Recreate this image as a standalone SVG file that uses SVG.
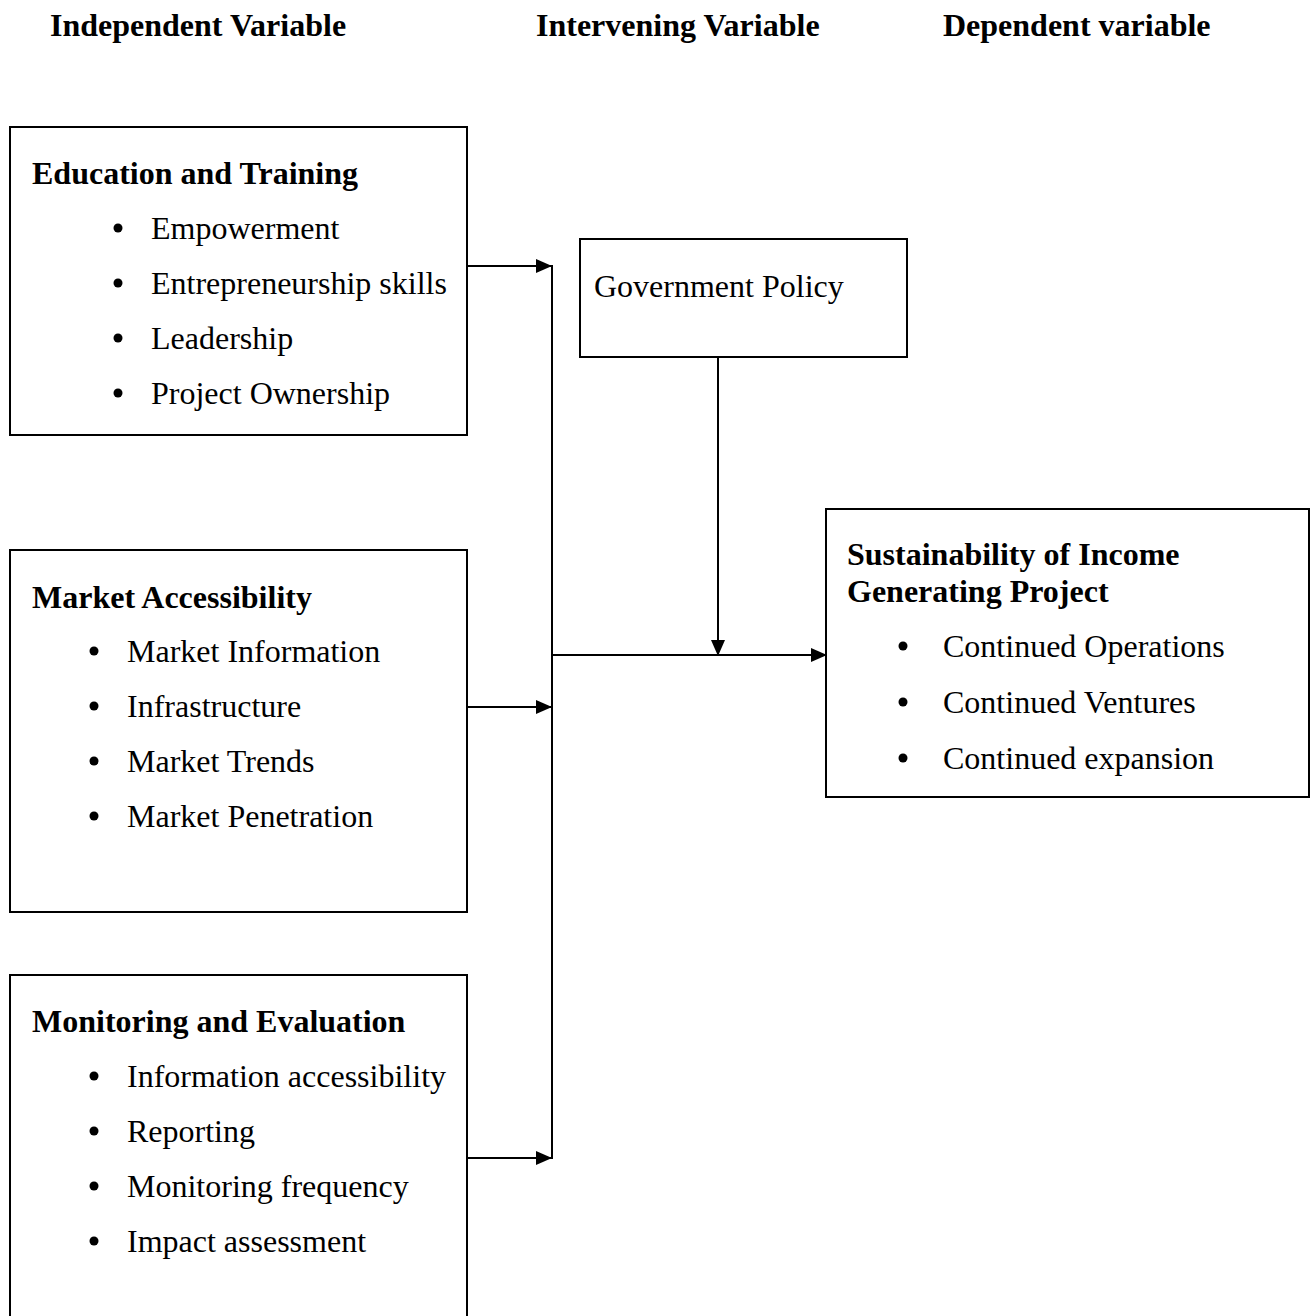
<svg xmlns="http://www.w3.org/2000/svg" width="1315" height="1316" viewBox="0 0 1315 1316">
<style>
text{font-family:"Liberation Serif","Times New Roman",serif;font-size:32px;fill:#000}
.b{font-weight:bold}
.box{fill:#fff;stroke:#000;stroke-width:2}
.ln{fill:none;stroke:#000;stroke-width:2}
.dot{fill:#000}
</style>
<defs>
<marker id="ah" markerWidth="16" markerHeight="14" refX="15" refY="7" orient="auto" markerUnits="userSpaceOnUse">
<path d="M0,0 L16,7 L0,14 Z" fill="#000"/>
</marker>
</defs>
<rect width="1315" height="1316" fill="#fff"/>
<g id="headers">
<text class="b" x="50" y="36">Independent Variable</text>
<text class="b" x="536" y="36">Intervening Variable</text>
<text class="b" x="943" y="36">Dependent variable</text>
</g>
<g id="connectors">
<line class="ln" x1="467" y1="266" x2="551" y2="266" marker-end="url(#ah)"/>
<line class="ln" x1="467" y1="707" x2="551" y2="707" marker-end="url(#ah)"/>
<line class="ln" x1="467" y1="1158" x2="551" y2="1158" marker-end="url(#ah)"/>
<line class="ln" x1="552" y1="265" x2="552" y2="1159"/>
<line class="ln" x1="552" y1="655" x2="826" y2="655" marker-end="url(#ah)"/>
<line class="ln" x1="718" y1="357" x2="718" y2="655" marker-end="url(#ah)"/>
</g>
<g id="education">
<rect class="box" x="10" y="127" width="457" height="308"/>
<text class="b" x="32" y="184">Education and Training</text>
<circle class="dot" cx="118" cy="228" r="4.5"/><text x="151" y="239">Empowerment</text>
<circle class="dot" cx="118" cy="283" r="4.5"/><text x="151" y="294">Entrepreneurship skills</text>
<circle class="dot" cx="118" cy="338" r="4.5"/><text x="151" y="349">Leadership</text>
<circle class="dot" cx="118" cy="393" r="4.5"/><text x="151" y="404">Project Ownership</text>
</g>
<g id="government">
<rect class="box" x="580" y="239" width="327" height="118"/>
<text x="594" y="297">Government Policy</text>
</g>
<g id="sustainability">
<rect class="box" x="826" y="509" width="483" height="288"/>
<text class="b" x="847" y="565">Sustainability of Income</text>
<text class="b" x="847" y="602">Generating Project</text>
<circle class="dot" cx="903" cy="646" r="4.5"/><text x="943" y="657">Continued Operations</text>
<circle class="dot" cx="903" cy="702" r="4.5"/><text x="943" y="713">Continued Ventures</text>
<circle class="dot" cx="903" cy="758" r="4.5"/><text x="943" y="769">Continued expansion</text>
</g>
<g id="market">
<rect class="box" x="10" y="550" width="457" height="362"/>
<text class="b" x="32" y="608">Market Accessibility</text>
<circle class="dot" cx="94" cy="651" r="4.5"/><text x="127" y="662">Market Information</text>
<circle class="dot" cx="94" cy="706" r="4.5"/><text x="127" y="717">Infrastructure</text>
<circle class="dot" cx="94" cy="761" r="4.5"/><text x="127" y="772">Market Trends</text>
<circle class="dot" cx="94" cy="816" r="4.5"/><text x="127" y="827">Market Penetration</text>
</g>
<g id="monitoring">
<rect class="box" x="10" y="975" width="457" height="360"/>
<text class="b" x="32" y="1032">Monitoring and Evaluation</text>
<circle class="dot" cx="94" cy="1076" r="4.5"/><text x="127" y="1087">Information accessibility</text>
<circle class="dot" cx="94" cy="1131" r="4.5"/><text x="127" y="1142">Reporting</text>
<circle class="dot" cx="94" cy="1186" r="4.5"/><text x="127" y="1197">Monitoring frequency</text>
<circle class="dot" cx="94" cy="1241" r="4.5"/><text x="127" y="1252">Impact assessment</text>
</g>
</svg>
